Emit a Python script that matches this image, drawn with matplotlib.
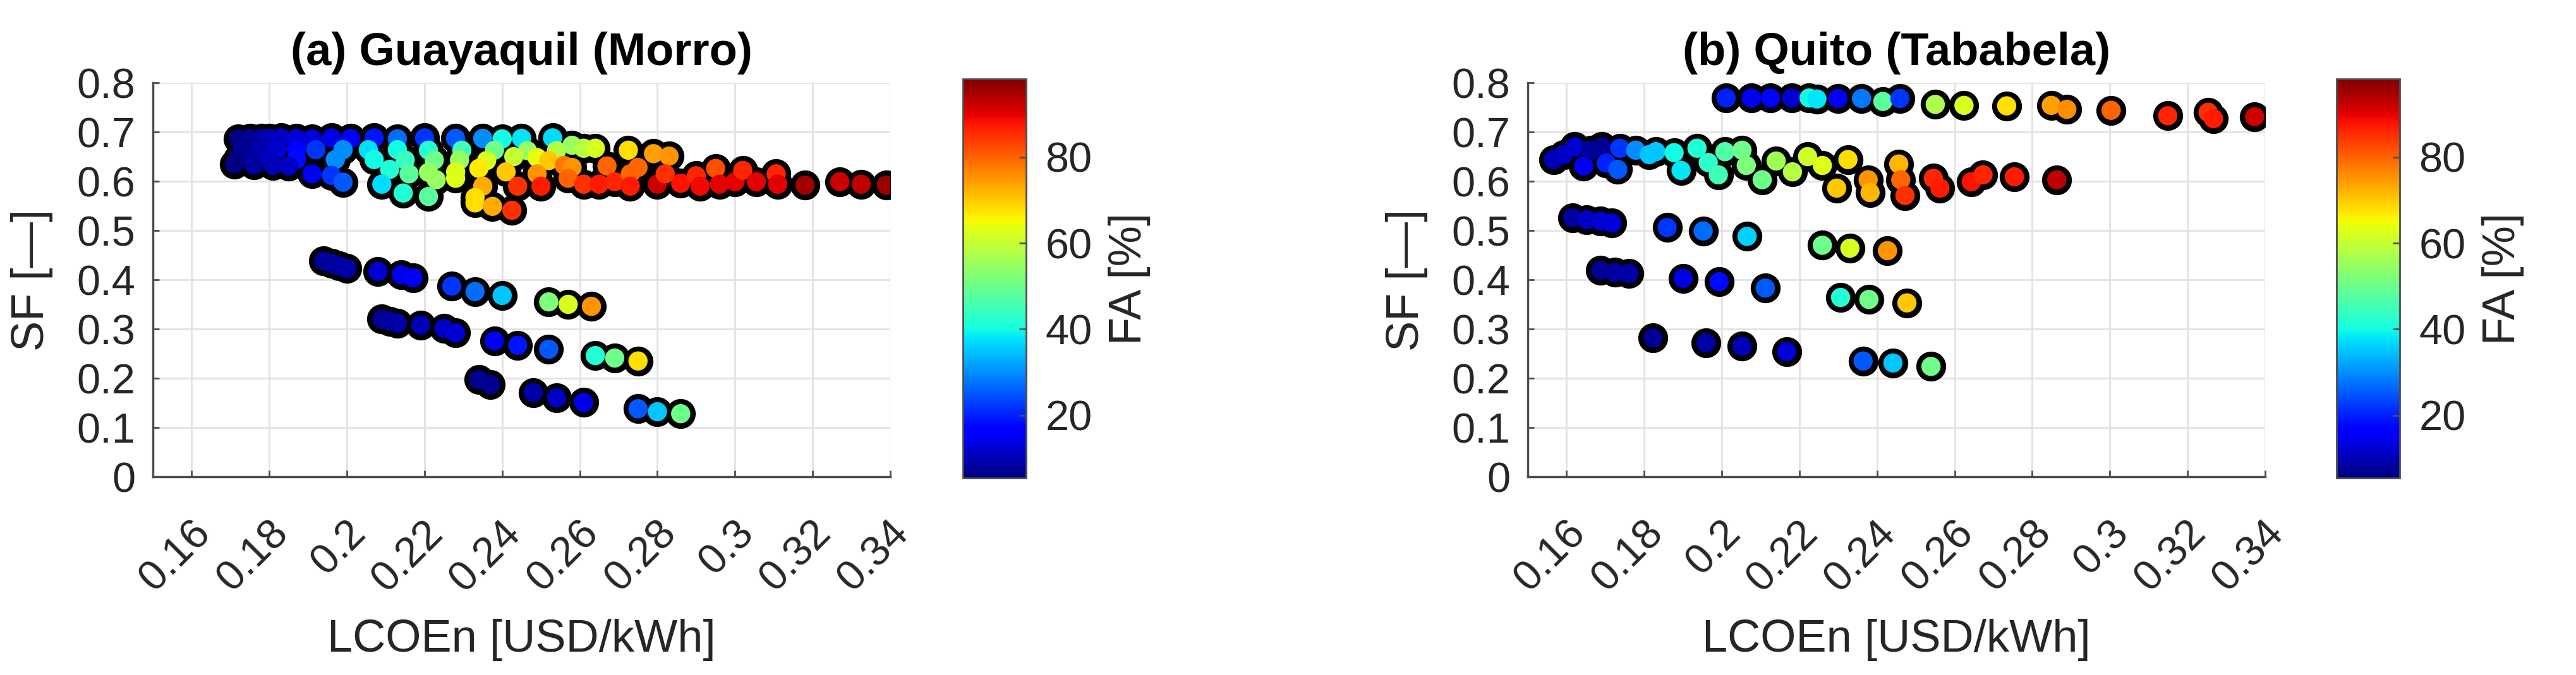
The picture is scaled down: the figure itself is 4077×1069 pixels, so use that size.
import matplotlib
matplotlib.use('Agg')
import matplotlib.pyplot as plt
import matplotlib.transforms as mtransforms
import numpy as np

plt.rcParams['font.family'] = ['Liberation Sans', 'DejaVu Sans']

# colour scale limits of FA [%]
FA_MIN, FA_MAX = 5.4, 98.2

# ---- (a) Guayaquil (Morro): rows of (LCOEn, SF, FA) ----
gye_top = [(0.172, 0.686, 5), (0.175, 0.687, 7), (0.178, 0.687, 8), (0.180, 0.687, 10),
           (0.183, 0.688, 11), (0.187, 0.687, 12), (0.191, 0.686, 13), (0.196, 0.688, 14),
           (0.201, 0.687, 16), (0.207, 0.688, 19), (0.213, 0.686, 27), (0.220, 0.688, 22),
           (0.228, 0.687, 25), (0.235, 0.687, 30), (0.240, 0.686, 40), (0.245, 0.687, 38),
           (0.253, 0.688, 37)]
gye_mid = [(0.173, 0.665, 7), (0.178, 0.664, 9), (0.182, 0.664, 12), (0.187, 0.664, 16),
           (0.192, 0.664, 22), (0.199, 0.664, 30), (0.2055, 0.664, 37), (0.213, 0.664, 40),
           (0.221, 0.663, 42), (0.2296, 0.663, 45), (0.238, 0.663, 50), (0.2465, 0.662, 55),
           (0.254, 0.662, 58)]
gye_low = [(0.172, 0.646, 6), (0.176, 0.645, 9), (0.180, 0.645, 11), (0.187, 0.644, 18),
           (0.197, 0.644, 30), (0.207, 0.644, 40), (0.215, 0.643, 44), (0.2225, 0.643, 50),
           (0.229, 0.643, 55), (0.236, 0.642, 62), (0.243, 0.650, 60), (0.249, 0.648, 64),
           (0.252, 0.642, 70), (0.171, 0.635, 5), (0.176, 0.633, 8), (0.181, 0.632, 10),
           (0.185, 0.631, 11)]
gye_spread = [(0.191, 0.615, 15), (0.196, 0.612, 22), (0.199, 0.598, 25), (0.211, 0.624, 42),
              (0.209, 0.594, 37), (0.2145, 0.576, 42), (0.216, 0.615, 48), (0.221, 0.618, 55),
              (0.223, 0.603, 55), (0.221, 0.569, 48), (0.228, 0.619, 62), (0.228, 0.606, 63),
              (0.234, 0.626, 67), (0.235, 0.590, 73), (0.233, 0.567, 68), (0.241, 0.619, 70),
              (0.244, 0.590, 85), (0.249, 0.615, 75), (0.250, 0.590, 87), (0.256, 0.632, 78),
              (0.233, 0.556, 68), (0.2375, 0.549, 73), (0.2425, 0.541, 85)]
gye_tail = [(0.258, 0.673, 55), (0.261, 0.667, 58), (0.264, 0.667, 62), (0.2725, 0.663, 68),
            (0.279, 0.656, 74), (0.283, 0.651, 75), (0.267, 0.631, 80), (0.258, 0.628, 75),
            (0.257, 0.606, 80), (0.261, 0.594, 85), (0.265, 0.594, 87), (0.269, 0.599, 86),
            (0.273, 0.615, 80), (0.275, 0.628, 80), (0.273, 0.590, 87), (0.280, 0.594, 92),
            (0.282, 0.615, 85), (0.286, 0.596, 88), (0.290, 0.611, 86), (0.291, 0.590, 89),
            (0.295, 0.626, 82), (0.296, 0.594, 90), (0.300, 0.599, 90), (0.302, 0.622, 86),
            (0.3055, 0.599, 90), (0.3106, 0.615, 86), (0.311, 0.594, 90), (0.318, 0.592, 95),
            (0.327, 0.599, 92), (0.3325, 0.594, 93), (0.339, 0.592, 96)]
gye_band1 = [(0.194, 0.438, 7), (0.196, 0.433, 8), (0.198, 0.428, 8), (0.200, 0.423, 9),
             (0.208, 0.417, 12), (0.214, 0.410, 14), (0.217, 0.404, 15), (0.227, 0.387, 22),
             (0.233, 0.376, 27), (0.240, 0.368, 35), (0.252, 0.355, 52), (0.257, 0.350, 62),
             (0.263, 0.346, 75)]
gye_band2 = [(0.209, 0.320, 7), (0.211, 0.316, 8), (0.213, 0.312, 9), (0.219, 0.308, 10),
             (0.225, 0.301, 11), (0.228, 0.292, 12), (0.238, 0.276, 15), (0.244, 0.267, 19),
             (0.252, 0.259, 25), (0.264, 0.246, 42), (0.269, 0.241, 50), (0.275, 0.235, 68)]
gye_band3 = [(0.234, 0.197, 7), (0.237, 0.187, 7), (0.248, 0.171, 9), (0.254, 0.160, 11),
             (0.261, 0.151, 14), (0.275, 0.138, 25), (0.280, 0.132, 35), (0.286, 0.128, 50)]

# ---- (b) Quito (Tababela) ----
uio_top = [(0.2011, 0.769, 20), (0.2076, 0.769, 15), (0.2125, 0.769, 17), (0.218, 0.769, 12),
           (0.2225, 0.769, 40), (0.2245, 0.767, 38), (0.2299, 0.768, 15), (0.236, 0.768, 28),
           (0.2415, 0.762, 48), (0.2459, 0.768, 22), (0.255, 0.756, 57), (0.2624, 0.754, 62),
           (0.2734, 0.753, 68), (0.2849, 0.754, 74), (0.2889, 0.746, 76), (0.3003, 0.744, 80),
           (0.3149, 0.733, 86), (0.3253, 0.740, 85), (0.3267, 0.727, 87), (0.3373, 0.731, 92)]
uio_cluster = [(0.1566, 0.644, 10), (0.1592, 0.654, 11), (0.1621, 0.670, 12), (0.1644, 0.631, 15),
               (0.1662, 0.663, 8), (0.1691, 0.670, 7), (0.1702, 0.637, 20), (0.1737, 0.667, 22),
               (0.1732, 0.624, 25), (0.1778, 0.663, 30), (0.1813, 0.654, 35), (0.1830, 0.660, 35),
               (0.1877, 0.658, 40), (0.1895, 0.622, 38), (0.1936, 0.667, 42), (0.1965, 0.638, 43),
               (0.1991, 0.613, 45), (0.2008, 0.660, 47), (0.2052, 0.663, 50), (0.2063, 0.632, 52),
               (0.2104, 0.603, 50), (0.2140, 0.641, 56), (0.2182, 0.619, 58), (0.2221, 0.650, 61),
               (0.2259, 0.632, 63), (0.2325, 0.644, 68), (0.2296, 0.586, 70)]
uio_tail = [(0.2377, 0.603, 75), (0.2382, 0.577, 72), (0.2456, 0.635, 72), (0.2461, 0.603, 80),
            (0.2472, 0.571, 85), (0.2545, 0.606, 86), (0.2562, 0.586, 87), (0.2643, 0.599, 88),
            (0.2673, 0.613, 86), (0.2754, 0.609, 87), (0.2863, 0.603, 93)]
uio_band1 = [(0.1615, 0.526, 8), (0.1652, 0.522, 11), (0.1688, 0.519, 12), (0.1717, 0.515, 13),
             (0.1859, 0.506, 22), (0.1952, 0.499, 27), (0.2065, 0.488, 36), (0.2259, 0.470, 50),
             (0.233, 0.464, 62), (0.2427, 0.459, 75)]
uio_band2 = [(0.1688, 0.419, 7), (0.1724, 0.415, 8), (0.1761, 0.413, 9), (0.190, 0.403, 14),
             (0.1993, 0.396, 18), (0.2112, 0.383, 25), (0.2306, 0.364, 42), (0.2379, 0.360, 50),
             (0.2477, 0.353, 70)]
uio_band3 = [(0.1823, 0.282, 7), (0.1959, 0.272, 9), (0.2052, 0.265, 10), (0.2167, 0.254, 13),
             (0.2364, 0.235, 25), (0.2441, 0.231, 35), (0.2539, 0.224, 50)]

gye = np.array(gye_top + gye_mid + gye_low + gye_spread + gye_tail
               + gye_band1 + gye_band2 + gye_band3)
uio = np.array(uio_top + uio_cluster + uio_tail + uio_band1 + uio_band2 + uio_band3)

x_ticks = [0.16, 0.18, 0.2, 0.22, 0.24, 0.26, 0.28, 0.3, 0.32, 0.34]
x_ticklabels = ['0.16', '0.18', '0.2', '0.22', '0.24', '0.26', '0.28', '0.3', '0.32', '0.34']
y_ticks = [0, 0.1, 0.2, 0.3, 0.4, 0.5, 0.6, 0.7, 0.8]
y_ticklabels = ['0', '0.1', '0.2', '0.3', '0.4', '0.5', '0.6', '0.7', '0.8']
cb_ticks = [20, 40, 60, 80]

TXT = '#262626'
W, H = 4077, 1069
fig = plt.figure(figsize=(W / 100, H / 100), dpi=100)


def panel(x0, cb_x0, data, title):
    """ one scatter panel with its colorbar (positions in pixels) """
    ax = fig.add_axes([x0 / W, (H - 755) / H, 1167 / W, 624 / H])
    # black underlay gives the merged outline, colour markers on top
    ax.scatter(data[:, 0], data[:, 1], s=1160, c='k', linewidths=0, zorder=2)
    sc = ax.scatter(data[:, 0], data[:, 1], s=480, c=data[:, 2], cmap='jet',
                    vmin=FA_MIN, vmax=FA_MAX, linewidths=0, zorder=3)
    ax.set_xlim(0.15, 0.34)
    ax.set_ylim(0, 0.8)
    ax.set_xticks(x_ticks)
    ax.set_xticklabels(x_ticklabels, rotation=45, ha='right', va='top')
    ax.set_yticks(y_ticks)
    ax.set_yticklabels(y_ticklabels)
    ax.grid(True, color='#e2e2e2', linewidth=2, zorder=0)
    ax.set_axisbelow(True)
    for side in ['top', 'right']:
        ax.spines[side].set_visible(False)
    for side in ['left', 'bottom']:
        ax.spines[side].set_color('#4d4d4d')
        ax.spines[side].set_linewidth(2.5)
    ax.tick_params(axis='both', direction='in', length=7, width=2, colors='#4d4d4d',
                   labelcolor=TXT, labelsize=48)
    ax.tick_params(axis='x', pad=42)
    ax.tick_params(axis='y', pad=20)
    shift = mtransforms.ScaledTranslation(0.42, 0, fig.dpi_scale_trans)
    for lab in ax.get_xticklabels():
        lab.set_transform(lab.get_transform() + shift)
    ax.set_xlabel('LCOEn [USD/kWh]', fontsize=52, color=TXT)
    ax.xaxis.set_label_coords(0.5, -0.36)
    ax.set_ylabel('SF [—]', fontsize=52, color=TXT)
    ax.yaxis.set_label_coords(-0.135, 0.5)
    ax.set_title(title, fontsize=52, fontweight='bold', pad=20)

    cax = fig.add_axes([cb_x0 / W, (H - 757) / H, 100 / W, 632 / H])
    cb = fig.colorbar(sc, cax=cax, ticks=cb_ticks)
    cb.outline.set_edgecolor('#4d4d4d')
    cb.outline.set_linewidth(2)
    cax.tick_params(direction='in', length=8, width=2, colors='#4d4d4d',
                    labelcolor=TXT, labelsize=48, pad=22)
    cb.set_label('FA [%]', fontsize=52, color=TXT, labelpad=18)
    return ax


panel(242, 1524, gye, '(a) Guayaquil (Morro)')
panel(2418, 3698, uio, '(b) Quito (Tababela)')

fig.savefig('out.png', dpi=100, facecolor='white')
